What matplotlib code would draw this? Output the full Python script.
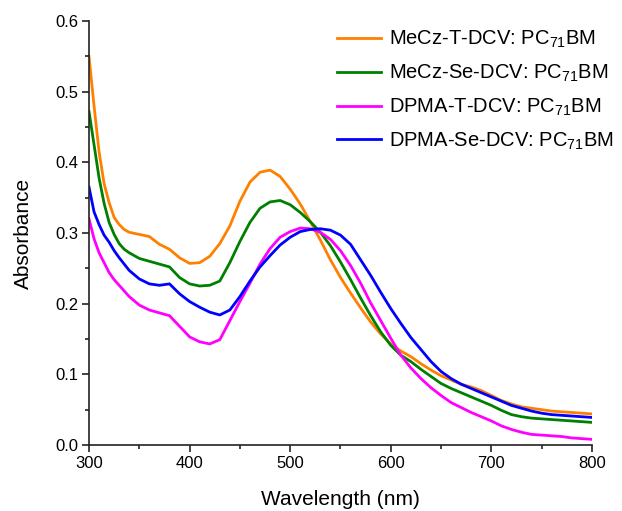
import matplotlib
matplotlib.use("Agg")
import matplotlib.pyplot as plt
from matplotlib.ticker import MultipleLocator

plt.rcParams['font.family'] = ['Liberation Sans', 'DejaVu Sans']
plt.rcParams['mathtext.fontset'] = 'custom'
plt.rcParams['mathtext.rm'] = 'Liberation Sans'
plt.rcParams['mathtext.default'] = 'regular'

wavelength = [300, 305, 310, 315, 320, 325, 330, 335] + list(range(340, 801, 10))

mecz_t = [0.550, 0.480, 0.415, 0.370, 0.343, 0.322, 0.312, 0.305,
          0.301, 0.298, 0.295, 0.284, 0.277, 0.265,
          0.257, 0.258, 0.267, 0.285, 0.310, 0.345, 0.372, 0.386, 0.389, 0.380,
          0.362, 0.341, 0.316, 0.290, 0.262, 0.237, 0.215, 0.194, 0.174, 0.157,
          0.143, 0.133, 0.125, 0.115, 0.106, 0.098, 0.092, 0.086, 0.082, 0.077,
          0.070, 0.063, 0.058, 0.054, 0.052, 0.050, 0.048, 0.047, 0.046, 0.045,
          0.044]
mecz_se = [0.472, 0.425, 0.378, 0.342, 0.315, 0.298, 0.285, 0.277,
           0.272, 0.264, 0.260, 0.256, 0.252, 0.237,
           0.228, 0.225, 0.226, 0.232, 0.258, 0.288, 0.315, 0.335, 0.344, 0.346,
           0.340, 0.329, 0.316, 0.301, 0.282, 0.259, 0.234, 0.208, 0.183, 0.160,
           0.141, 0.127, 0.118, 0.107, 0.097, 0.087, 0.080, 0.074, 0.068, 0.062,
           0.056, 0.049, 0.043, 0.040, 0.038, 0.037, 0.036, 0.035, 0.034, 0.033,
           0.032]
dpma_t = [0.320, 0.292, 0.272, 0.258, 0.244, 0.234, 0.226, 0.218,
          0.210, 0.198, 0.191, 0.187, 0.183, 0.168,
          0.153, 0.146, 0.143, 0.149, 0.176, 0.203, 0.229, 0.256, 0.278, 0.294,
          0.302, 0.307, 0.306, 0.301, 0.291, 0.275, 0.254, 0.229, 0.201, 0.176,
          0.151, 0.127, 0.109, 0.094, 0.081, 0.070, 0.060, 0.053, 0.046, 0.040,
          0.034, 0.027, 0.022, 0.018, 0.015, 0.014, 0.013, 0.012, 0.010, 0.009,
          0.008]
dpma_se = [0.365, 0.330, 0.312, 0.297, 0.287, 0.275, 0.265, 0.256,
           0.247, 0.235, 0.228, 0.226, 0.228, 0.214,
           0.203, 0.195, 0.188, 0.184, 0.191, 0.210, 0.232, 0.252, 0.268, 0.283,
           0.294, 0.302, 0.305, 0.306, 0.304, 0.297, 0.284, 0.262, 0.240, 0.216,
           0.193, 0.172, 0.152, 0.135, 0.118, 0.104, 0.094, 0.086, 0.080, 0.074,
           0.068, 0.062, 0.056, 0.052, 0.048, 0.045, 0.043, 0.042, 0.041, 0.040,
           0.039]

labels = ["MeCz-T-DCV: PC$_{71}$BM", "MeCz-Se-DCV: PC$_{71}$BM",
          "DPMA-T-DCV: PC$_{71}$BM", "DPMA-Se-DCV: PC$_{71}$BM"]
series = [mecz_t, mecz_se, dpma_t, dpma_se]
colors = ["#FF8000", "#008000", "#FF00FF", "#0000FF"]

W, H = 622, 511
fig = plt.figure(figsize=(W/100, H/100), dpi=100)
ax = fig.add_axes([89/W, 1-445/H, (592-89)/W, (445-21)/H])

for ys, lab, c in zip(series, labels, colors):
    ax.plot(wavelength, ys, color=c, lw=2.0, label=lab, solid_joinstyle='round')

ax.set_xlim(300, 800)
ax.set_ylim(0, 0.6)
ax.xaxis.set_major_locator(MultipleLocator(100))
ax.xaxis.set_minor_locator(MultipleLocator(50))
ax.yaxis.set_major_locator(MultipleLocator(0.1))
ax.yaxis.set_minor_locator(MultipleLocator(0.05))
ax.yaxis.set_major_formatter(plt.FuncFormatter(lambda v, p: f"{v:.1f}"))
for s in ['top', 'right']:
    ax.spines[s].set_visible(False)
for s in ['left', 'bottom']:
    ax.spines[s].set_linewidth(1.2)
    ax.spines[s].set_color('#222222')
ax.tick_params(which='major', direction='out', length=5.2, width=1.2, labelsize=12,
               color='#222222', pad=2.5)
ax.tick_params(which='minor', direction='out', length=3, width=1.2, color='#222222')

ax.set_xlabel("Wavelength (nm)", fontsize=15, labelpad=14)
ax.set_ylabel("Absorbance", fontsize=15, labelpad=16)

ax.legend(loc='upper left', bbox_to_anchor=(337/W, 1-29/H), bbox_transform=fig.transFigure,
          frameon=False, fontsize=14.5, borderpad=0, borderaxespad=0,
          handlelength=2.2, handletextpad=0.4, labelspacing=0.62)

fig.savefig("out.png", dpi=100)
